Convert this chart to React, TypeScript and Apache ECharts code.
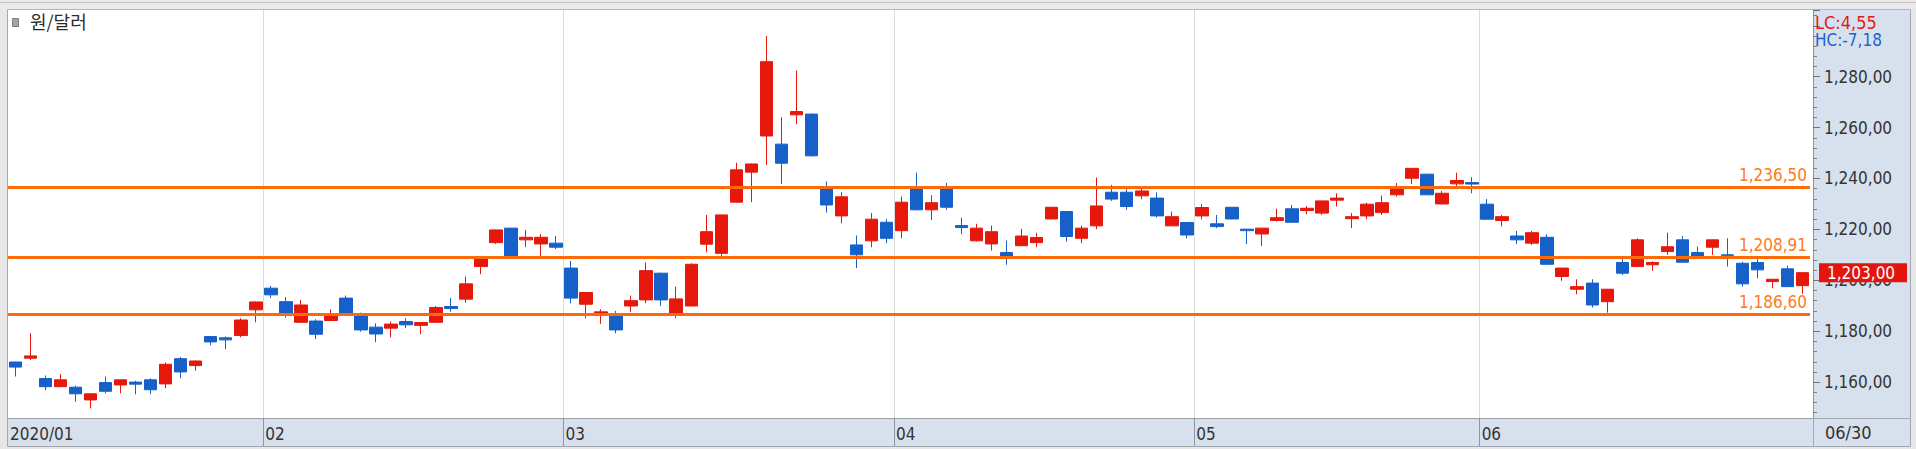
import React, { useEffect, useRef } from 'react';
import * as echarts from 'echarts';

// ---- data ----
const dates = [
  '01/07','01/08','01/09','01/10','01/13','01/14','01/15','01/16','01/17','01/20','01/21','01/22','01/23','01/28','01/29','01/30','01/31',
  '02/03','02/04','02/05','02/06','02/07','02/10','02/11','02/12','02/13','02/14','02/17','02/18','02/19','02/20','02/21','02/24','02/25','02/26','02/27','02/28',
  '03/02','03/03','03/04','03/05','03/06','03/09','03/10','03/11','03/12','03/13','03/16','03/17','03/18','03/19','03/20','03/23','03/24','03/25','03/26','03/27','03/30','03/31',
  '04/01','04/02','04/03','04/06','04/07','04/08','04/09','04/10','04/13','04/14','04/16','04/17','04/20','04/21','04/22','04/23','04/24','04/27','04/28','04/29',
  '05/04','05/06','05/07','05/08','05/11','05/12','05/13','05/14','05/15','05/18','05/19','05/20','05/21','05/22','05/25','05/26','05/27','05/28','05/29',
  '06/01','06/02','06/03','06/04','06/05','06/08','06/09','06/10','06/11','06/12','06/15','06/16','06/17','06/18','06/19','06/22','06/23','06/24','06/25','06/26','06/29','06/30',
];
const openVals = [
  1167.9,1169.4,1161.4,1158.2,1158.0,1153.0,1159.8,1158.9,1160.0,1160.9,1159.3,1169.2,1166.5,1177.9,1177.4,1178.3,1188.4,
  1196.9,1191.6,1183.5,1184.0,1184.2,1193.0,1186.0,1181.6,1181.2,1183.8,1182.3,1183.5,1189.7,1192.6,1205.4,1214.8,1220.5,1215.9,1214.3,1214.6,
  1204.8,1190.6,1186.5,1186.4,1189.9,1192.3,1202.8,1186.7,1189.9,1214.2,1210.6,1230.7,1242.5,1256.7,1253.5,1265.0,1265.3,1235.9,1225.3,1213.9,1215.5,1222.8,
  1219.5,1235.9,1227.7,1235.9,1221.5,1215.5,1214.3,1210.9,1213.6,1214.8,1224.1,1227.0,1216.5,1221.4,1234.6,1234.6,1233.2,1232.3,1221.4,1222.7,
  1225.3,1222.2,1228.7,1220.1,1218.2,1223.5,1228.1,1227.4,1226.4,1231.5,1224.2,1225.3,1226.6,1233.6,1240.1,1241.7,1230.0,1237.9,1238.4,
  1229.9,1223.5,1217.4,1214.6,1216.9,1201.5,1196.5,1198.9,1191.6,1207.0,1205.4,1206.1,1211.3,1215.9,1210.9,1213.0,1210.0,1206.7,1207.0,1199.5,1204.5,1197.9,
];
const closeVals = [
  1165.9,1170.3,1158.2,1160.9,1155.4,1155.4,1156.4,1160.9,1159.2,1157.0,1167.0,1164.0,1168.3,1175.8,1176.6,1184.4,1191.5,
  1194.3,1187.1,1190.3,1178.8,1186.4,1187.1,1180.5,1178.9,1182.8,1182.5,1183.4,1189.3,1188.9,1198.6,1208.4,1219.8,1209.3,1216.9,1216.9,1213.0,
  1193.0,1195.2,1187.6,1180.5,1192.0,1203.8,1192.3,1192.7,1206.3,1219.1,1225.7,1243.4,1245.7,1285.9,1246.0,1266.3,1248.9,1229.6,1232.8,1210.0,1224.0,1216.5,
  1230.7,1227.7,1230.5,1228.7,1220.7,1220.5,1219.1,1209.3,1217.4,1216.8,1228.7,1217.2,1220.5,1229.2,1231.9,1229.0,1235.1,1225.3,1225.0,1217.8,
  1228.6,1221.1,1224.1,1219.5,1220.5,1224.6,1222.8,1228.3,1231.2,1232.3,1225.0,1229.9,1230.5,1236.2,1244.0,1233.6,1234.2,1239.2,1237.8,
  1224.0,1225.0,1215.9,1218.7,1206.3,1204.8,1197.5,1190.3,1196.5,1202.8,1215.9,1207.0,1213.2,1207.1,1209.3,1215.9,1209.8,1198.6,1204.1,1200.4,1197.5,1203.0,
];
const lowVals = [
  1162.2,1168.7,1156.9,1158.0,1152.3,1149.7,1155.6,1155.6,1155.2,1155.2,1157.6,1161.5,1164.5,1174.5,1172.9,1177.6,1183.5,
  1193.0,1185.3,1183.4,1176.9,1184.0,1186.8,1179.8,1175.7,1177.6,1181.2,1178.8,1183.3,1187.6,1191.2,1202.4,1214.3,1209.3,1213.1,1209.3,1212.3,
  1191.0,1185.1,1182.9,1179.2,1187.5,1191.0,1189.9,1185.1,1189.9,1211.0,1209.3,1230.5,1230.7,1245.3,1237.8,1261.3,1248.7,1226.6,1222.4,1204.8,1213.0,1214.6,
  1216.5,1227.5,1223.7,1227.7,1218.2,1215.3,1211.7,1206.1,1213.5,1213.0,1224.0,1215.2,1214.6,1220.1,1231.2,1227.7,1231.9,1224.7,1221.3,1216.5,
  1224.0,1220.5,1224.0,1214.2,1213.5,1223.1,1222.7,1226.0,1225.7,1229.0,1220.5,1224.0,1225.7,1232.9,1237.8,1233.5,1229.9,1236.6,1234.2,
  1223.9,1221.2,1214.2,1213.9,1206.2,1199.8,1194.5,1189.3,1187.3,1202.1,1205.3,1203.7,1210.0,1207.0,1209.2,1210.0,1205.4,1197.5,1200.8,1196.9,1197.4,1194.7,
];
const highVals = [
  1168.0,1179.2,1162.6,1163.2,1158.6,1155.5,1162.2,1161.0,1160.5,1161.5,1167.7,1169.9,1168.5,1178.0,1177.9,1185.1,1191.7,
  1197.8,1193.4,1192.3,1184.7,1188.6,1194.0,1187.3,1183.1,1183.8,1185.1,1183.5,1189.9,1193.0,1201.5,1208.5,1219.9,1220.5,1219.8,1218.2,1217.4,
  1207.6,1195.3,1188.6,1188.0,1194.0,1207.0,1203.0,1197.5,1206.7,1225.7,1225.8,1246.2,1245.9,1296.0,1264.1,1282.4,1265.5,1238.8,1234.6,1217.6,1226.4,1224.0,
  1232.9,1242.3,1233.4,1238.2,1224.6,1222.2,1221.5,1215.6,1220.2,1218.7,1228.8,1227.2,1221.5,1240.4,1237.5,1235.8,1236.2,1234.6,1227.0,1222.8,
  1229.9,1225.7,1228.8,1220.2,1220.6,1228.1,1229.6,1229.2,1231.3,1234.2,1226.4,1230.5,1233.3,1238.2,1244.1,1241.8,1235.1,1242.3,1240.5,
  1231.9,1225.7,1219.4,1219.4,1218.1,1204.9,1200.4,1200.4,1196.6,1208.3,1216.5,1207.5,1218.7,1217.4,1213.2,1216.0,1216.5,1207.3,1208.3,1200.5,1205.8,1203.1,
];
const levelLines = [1236.5, 1208.91, 1186.6];
const titleText = '원/달러';
const lcText = 'LC:4,55';
const hcText = 'HC:-7,18';
const firstMonthLabel = '2020/01';

// ---- styles ----
const UP = '#e6180c';
const DOWN = '#1560c9';
const PANEL = '#d7e1ed';
const NARROW = '"Liberation Sans Narrow", "Arial Narrow", "DejaVu Sans Condensed", sans-serif';
const FS = 17;

function fmt(v: number): string {
  const s = v.toLocaleString('en-US', { minimumFractionDigits: 2, maximumFractionDigits: 2 });
  return s.replace('.', ',');
}

function isMonthStart(i: number): boolean {
  if (i === 0) return true;
  if (i >= dates.length) return false;
  return dates[i].slice(0, 2) !== dates[i - 1].slice(0, 2);
}

export default function App() {
  const ref = useRef<HTMLDivElement>(null);
  useEffect(() => {
    if (!ref.current) return;
    const chart = echarts.init(ref.current, undefined, { renderer: 'svg' });
    const candles = dates.map((_, i) => [openVals[i], closeVals[i], lowVals[i], highVals[i]]);
    const lastClose = closeVals[closeVals.length - 1];
    const boundaryCats = [...dates, ''];

    chart.setOption({
      animation: false,
      backgroundColor: '#e7e7e7',
      grid: { left: 8, right: 106, top: 10, bottom: 31, containLabel: false },
      xAxis: [
        {
          type: 'category',
          data: dates,
          position: 'top',
          boundaryGap: true,
          show: false,
        },
        {
          type: 'category',
          data: boundaryCats,
          position: 'bottom',
          boundaryGap: false,
          axisLine: { show: true, lineStyle: { color: '#9aa0a6', width: 1 } },
          axisTick: {
            show: true,
            interval: (i: number) => isMonthStart(i) && i > 0,
            length: 28,
            inside: false,
            lineStyle: { color: '#8f959c', width: 1 },
          },
          axisLabel: {
            show: true,
            interval: (i: number) => isMonthStart(i),
            formatter: (_v: string, i: number) => (i === 0 ? firstMonthLabel : dates[i].slice(0, 2)),
            align: 'left',
            padding: [0, 0, 0, 2],
            margin: 7,
            color: '#333',
            fontSize: FS,
            fontFamily: NARROW,
          },
          splitLine: {
            show: true,
            interval: (i: number) => isMonthStart(i) && i > 0,
            lineStyle: { color: '#dadada', width: 1 },
          },
        },
      ],
      yAxis: {
        type: 'value',
        position: 'right',
        offset: 3,
        min: 1145.9,
        max: 1306.2,
        splitNumber: 8,
        scale: true,
        axisLine: { show: true, lineStyle: { color: '#8f959c', width: 1 } },
        axisTick: { show: true, length: 7, lineStyle: { color: '#6c7278' } },
        minorTick: { show: true, splitNumber: 5, length: 4, lineStyle: { color: '#7c8288' } },
        splitLine: { show: false },
        axisLabel: {
          showMinLabel: false,
          showMaxLabel: false,
          margin: 11,
          color: '#333',
          fontSize: FS,
          fontFamily: NARROW,
          formatter: (v: number) => (v > 1290 ? '' : fmt(v)),
        },
      },
      graphic: [
        { type: 'rect', z: -10, silent: true, shape: { x: 0, y: 0, width: 1916, height: 10 }, style: { fill: '#e9e9e9' } },
        { type: 'rect', z: -10, silent: true, shape: { x: 8, y: 10, width: 1805, height: 408 }, style: { fill: '#ffffff' } },
        { type: 'rect', z: -10, silent: true, shape: { x: 8, y: 418, width: 1805, height: 28 }, style: { fill: PANEL } },
        { type: 'rect', z: -10, silent: true, shape: { x: 1813, y: 10, width: 97, height: 436 }, style: { fill: PANEL } },
        { type: 'line', z: 5, silent: true, shape: { x1: 7.5, y1: 9.5, x2: 7.5, y2: 446.5 }, style: { stroke: '#a3a8ae', lineWidth: 1 } },
        { type: 'line', z: 5, silent: true, shape: { x1: 7.5, y1: 9.5, x2: 1910.5, y2: 9.5 }, style: { stroke: '#b4b8bc', lineWidth: 1 } },
        { type: 'line', z: 5, silent: true, shape: { x1: 1910.5, y1: 9.5, x2: 1910.5, y2: 446.5 }, style: { stroke: '#a3a8ae', lineWidth: 1 } },
        { type: 'line', z: 5, silent: true, shape: { x1: 7.5, y1: 446.5, x2: 1910.5, y2: 446.5 }, style: { stroke: '#a3a8ae', lineWidth: 1 } },
        { type: 'line', z: 5, silent: true, shape: { x1: 1813.5, y1: 418, x2: 1813.5, y2: 446.5 }, style: { stroke: '#a3a8ae', lineWidth: 1 } },
        { type: 'line', z: 5, silent: true, shape: { x1: 1810, y1: 418.5, x2: 1910.5, y2: 418.5 }, style: { stroke: '#a3a8ae', lineWidth: 1 } },
        { type: 'line', z: 5, silent: true, shape: { x1: 0, y1: 2.5, x2: 1916, y2: 2.5 }, style: { stroke: '#c4c4c4', lineWidth: 1 } },
        { type: 'rect', z: 5, silent: true, shape: { x: 12.5, y: 18.5, width: 6, height: 8 }, style: { fill: '#a4a4a4', stroke: '#7a7a7a', lineWidth: 1 } },
        { type: 'text', z: 5, silent: true, x: 30, y: 12, style: { text: titleText, fill: '#2b2b2b', font: '18px "Noto Sans CJK KR", sans-serif' } },
        { type: 'text', z: 5, silent: true, x: 1815, y: 13, style: { text: lcText, fill: '#e31a12', font: '18px ' + NARROW } },
        { type: 'text', z: 5, silent: true, x: 1815, y: 31, style: { text: hcText, fill: '#1f5fd0', font: '17px ' + NARROW } },
        { type: 'text', z: 5, silent: true, x: 1825, y: 423, style: { text: dates[dates.length - 1], fill: '#333', font: '18px ' + NARROW } },
      ],
      series: [
        {
          type: 'candlestick',
          xAxisIndex: 0,
          yAxisIndex: 0,
          data: candles,
          barWidth: 13,
          itemStyle: {
            color: UP,
            color0: DOWN,
            borderColor: UP,
            borderColor0: DOWN,
            borderWidth: 1,
          },
          markLine: {
            silent: true,
            symbol: ['none', 'none'],
            animation: false,
            data: [
              ...levelLines.map((v) => ({
                yAxis: v,
                lineStyle: { color: '#ff6a08', width: 3, type: 'solid' },
                label: {
                  show: true,
                  position: 'insideEndTop',
                  distance: [3, 4],
                  formatter: () => fmt(v),
                  color: '#ff7a1e',
                  fontSize: FS,
                  fontFamily: NARROW,
                },
              })),
              {
                yAxis: lastClose,
                lineStyle: { color: 'rgba(255,255,255,0)', width: 1, type: 'solid' },
                label: {
                  show: true,
                  position: 'end',
                  distance: 9,
                  formatter: () => fmt(lastClose),
                  color: '#ffffff',
                  backgroundColor: '#e3150c',
                  padding: [1, 6, 0, 8],
                  width: 74,
                  height: 18,
                  lineHeight: 19,
                  fontSize: FS,
                  fontFamily: NARROW,
                },
              },
            ],
          },
        },
      ],
    });
    return () => chart.dispose();
  }, []);
  return <div ref={ref} style={{ position: 'fixed', left: 0, top: 0, width: 1916, height: 449 }} />;
}
